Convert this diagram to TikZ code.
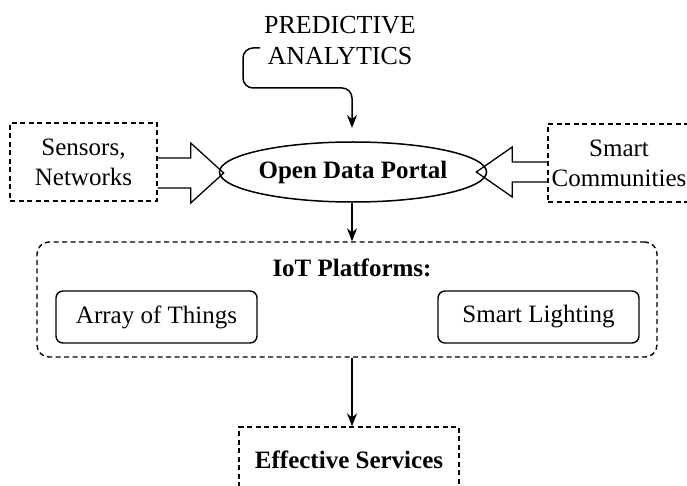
\documentclass[tikz,border=0pt]{standalone}
\usepackage{fontspec}
\setmainfont{Liberation Serif}
\usepackage{tikz}
\usetikzlibrary{arrows.meta, positioning, calc, shapes}

\tikzset{
  dashbox/.style={draw, line width=1.4pt, dash pattern=on 5pt off 3.5pt, inner sep=0pt, align=center},
  platbox/.style={draw, line width=1.4pt, rounded corners=7pt, inner sep=0pt, minimum width=201pt, minimum height=52pt},
  flow/.style={line width=1.5pt, -{Stealth[length=13pt, width=10pt]}},
  blockarrow/.style={line width=1.3pt, line join=miter},
}

\begin{document}
\begin{tikzpicture}[x=1pt, y=-1pt, font=\fontsize{25}{30}\selectfont]
  \useasboundingbox (0,0) rectangle (687,486);
  % top label and portal
  \node[align=center, font=\fontsize{26}{31}\selectfont] (pred) at (340,41) {PREDICTIVE\\ANALYTICS};
  \node[draw, ellipse, line width=1.5pt, minimum width=220pt, minimum height=60pt, inner sep=0pt, font=\fontsize{25}{30}\selectfont\bfseries] (portal) at (353,172) {Open Data Portal};
  \coordinate (predstart) at (260,48);
  \draw[flow, rounded corners=10pt, shorten >=14pt] (predstart) -- (243,48) -- (243,88) -- (352,88) -- (352,142);
  % sources
  \node[dashbox, minimum width=147pt, minimum height=78pt] (sens) at (83.5,162) {Sensors,\\Networks};
  \node[dashbox, minimum width=142pt, minimum height=78pt] (comm) at (619,163) {Smart\\Communities};
  \draw[blockarrow] (sens.east |- 0,158) -- ++(33,0) -- ++(0,-15) -- ++(33,30) -- ++(-33,30) -- ++(0,-15) -- ++(-33,0);
  \draw[blockarrow] (comm.west |- 0,162) -- ++(-35,0) -- ++(0,-15) -- ++(-36,25) -- ++(36,25) -- ++(0,-15) -- ++(35,0);
  % platforms
  \node[dashbox, rounded corners=12pt, minimum width=620pt, minimum height=115pt] (iot) at (347,299.5) {};
  \node[font=\fontsize{25}{30}\selectfont\bfseries] (iottitle) at (352,268) {IoT Platforms:};
  \node[platbox] (aot) at (156.5,317) {Array of Things};
  \node[platbox] (light) at (538.5,317) {Smart Lighting};
  % result
  \node[dashbox, minimum width=220pt, minimum height=66pt, font=\fontsize{25}{30}\selectfont\bfseries] (eff) at (349,460) {Effective Services};
  \draw[flow] (portal.south -| 352,0) -- (352,0 |- iot.north);
  \draw[flow] (352,0 |- iot.south) -- (352,0 |- eff.north);
\end{tikzpicture}
\end{document}
